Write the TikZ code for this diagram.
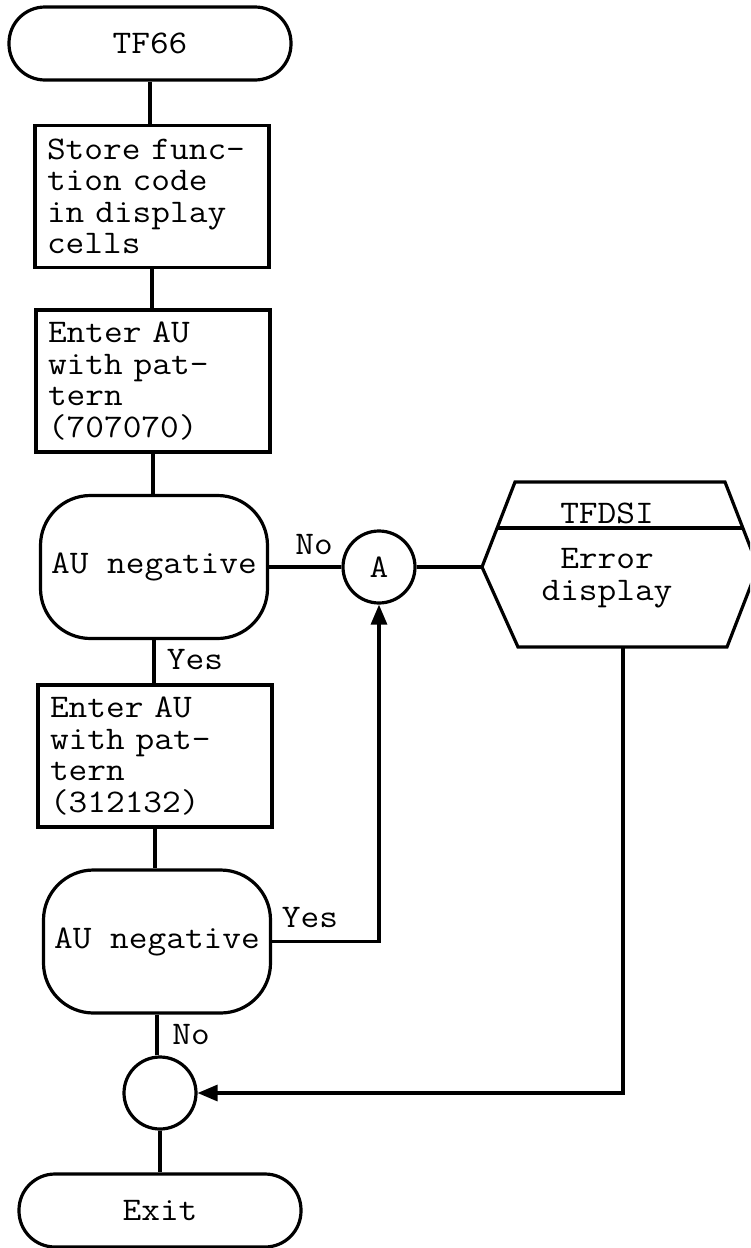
\documentclass[tikz,border=0pt]{standalone}
\usepackage{fontspec}
\newfontfamily\flowfont[FakeStretch=1.1]{Latin Modern Mono}
\usetikzlibrary{arrows.meta}
\newcommand{\flowtxt}{\fontsize{16.5pt}{15.75pt}\selectfont\flowfont}
\tikzset{
 ln/.style={line width=1.6pt},
 procbox/.style={draw, ln, rectangle, minimum height=71pt, text width=105pt, align=left, inner xsep=6pt, inner ysep=0pt, font=\flowtxt},
 term/.style={draw, ln, rounded corners=18pt, minimum width=141pt, minimum height=36.5pt, font=\flowtxt},
 decis/.style={draw, ln, rounded corners=25pt, minimum width=113.5pt, minimum height=71.5pt, inner sep=0pt, font=\flowtxt},
 conn/.style={draw, ln, circle, minimum size=36pt, inner sep=0pt, font=\flowtxt},
 lbl/.style={font=\flowtxt, inner sep=0pt},
 flow/.style={ln},
 arr/.style={ln, -{Triangle[length=10pt,width=8pt]}},
}
\begin{document}
\begin{tikzpicture}[x=0.5pt,y=-0.5pt]
\clip (0,0) rectangle (750,1248);
\fill[white] (0,0) rectangle (750,1248);
% nodes
\node[term] (tf66) at (150,43.5) {TF66};
\node[procbox] (box1) at (152,196.5) {Store func-\\tion code\\in display\\cells};
\node[procbox] (box2) at (153,381) {Enter AU\\with pat-\\tern\\(707070)};
\node[decis] (dec1) at (154,567) {AU negative};
\node[conn] (A) at (379,567) {A};
\node[procbox] (box3) at (155,756) {Enter AU\\with pat-\\tern\\(312132)};
\node[decis] (dec2) at (157,941.5) {AU negative};
\node[conn] (J) at (160,1093) {};
\node[term] (exit) at (160,1210.5) {Exit};
% hexagon (predefined process)
\draw[ln] (515,482) -- (725,482) -- (758,567) -- (727,647) -- (518,647) -- (482,567) -- cycle;
\draw[ln] (497,528) -- (743,528);
\coordinate (hexL) at (482,567);
\coordinate (hexB) at (623,647);
\node[lbl] (tfdsi) at (607,513) {TFDSI};
\node[font=\flowtxt, align=center, inner sep=0pt] (err) at (607,578) {Error\\display};
% connectors
\draw[flow] (tf66.south) -- (tf66.south |- box1.north);
\draw[flow] (box1.south) -- (box1.south |- box2.north);
\draw[flow] (box2.south) -- (box2.south |- dec1.north);
\draw[flow] (dec1.east) -- (A.west);
\draw[flow] (A.east) -- (hexL);
\draw[flow] (dec1.south) -- (dec1.south |- box3.north);
\draw[flow] (box3.south) -- (box3.south |- dec2.north);
\draw[arr] (dec2.east) -| (A.south);
\draw[flow] (dec2.south) -- (dec2.south |- J.north);
\draw[arr] (hexB) |- (J.east);
\draw[flow] (J.south) -- (J.south |- exit.north);
% labels
\node[lbl] (no1) at (314,545) {No};
\node[lbl] (yes1) at (195,660) {Yes};
\node[lbl] (yes2) at (310,918) {Yes};
\node[lbl] (no2) at (191,1035) {No};
\end{tikzpicture}
\end{document}
